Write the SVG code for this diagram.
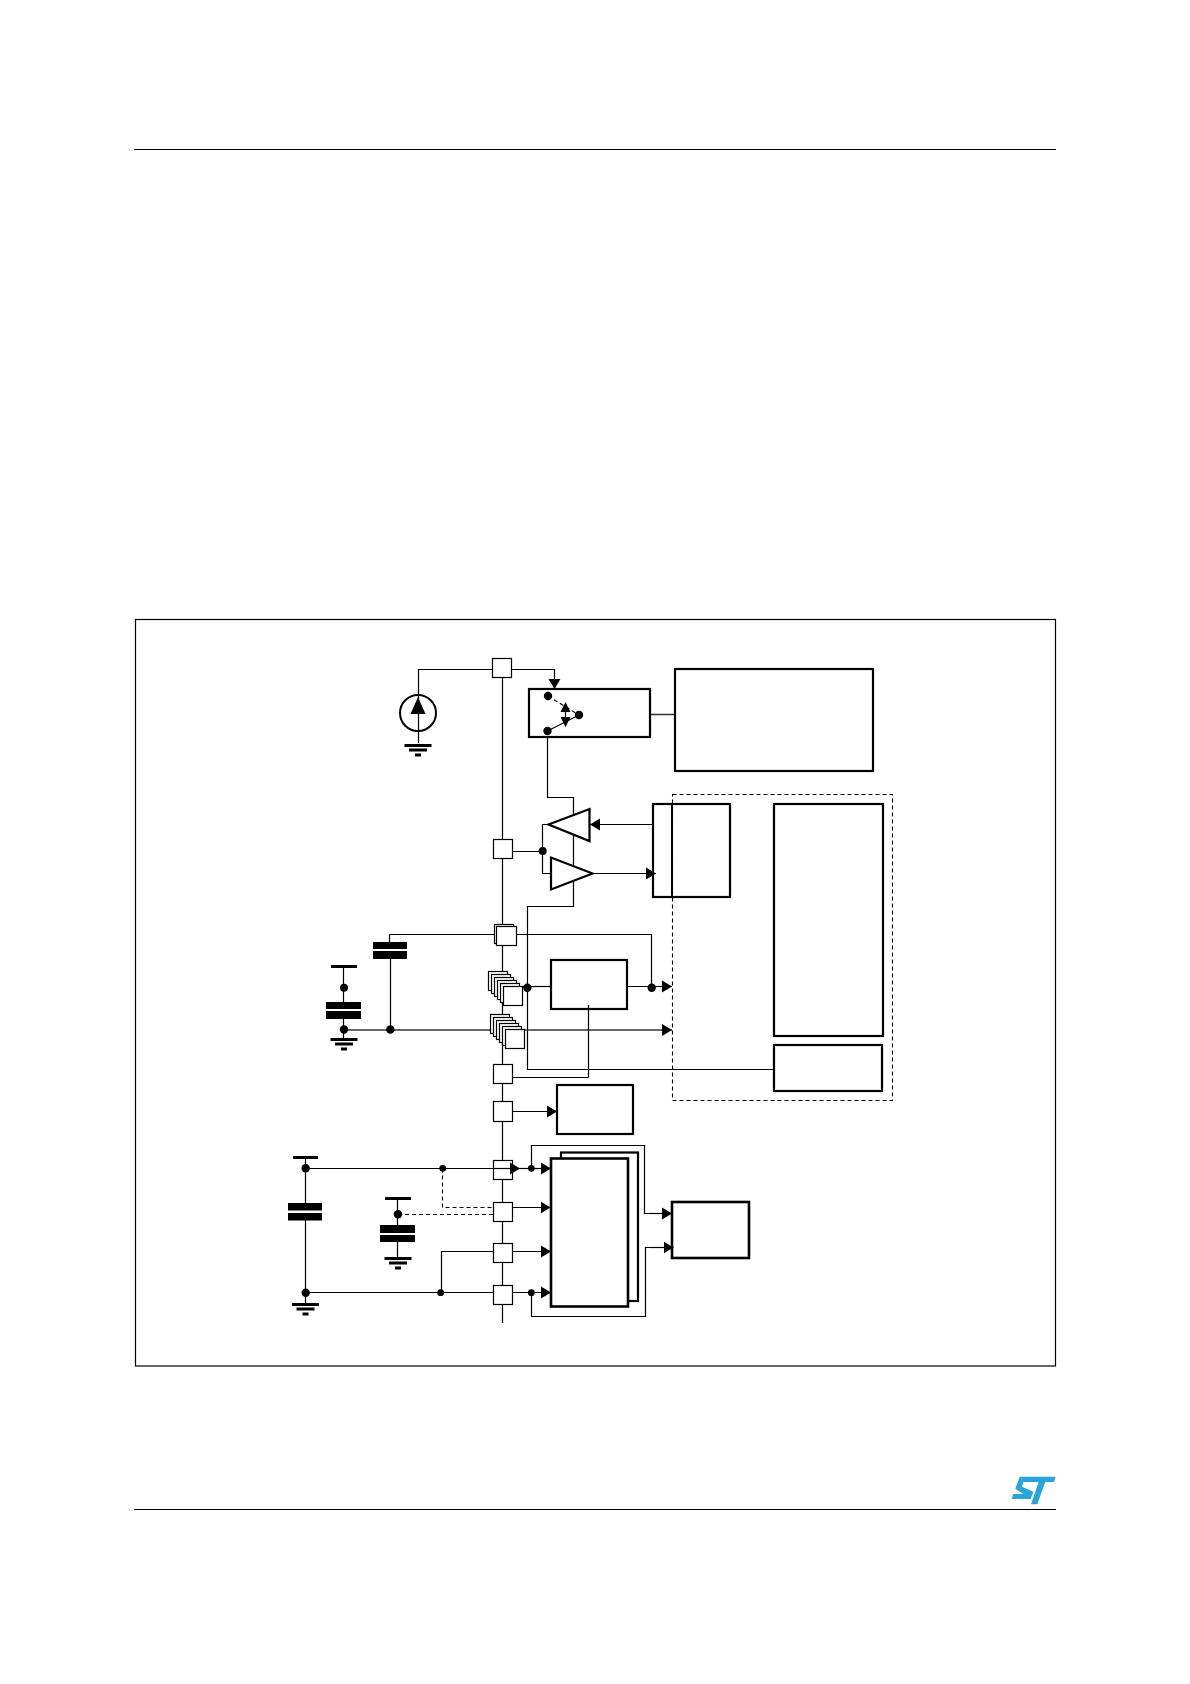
<svg xmlns="http://www.w3.org/2000/svg" width="1190" height="1684" viewBox="0 0 1190 1684">
<style>
.w{fill:none;stroke:#000;stroke-width:1.2}
.g{fill:none;stroke:#333;stroke-width:1.3}
.d{fill:none;stroke:#000;stroke-width:1.1;stroke-dasharray:4 3}
.p{fill:#fff;stroke:#000;stroke-width:1.2}
.b{fill:#fff;stroke:#000;stroke-width:2.2}
.k{fill:#000;stroke:none}
.a{marker-end:url(#arr)}
</style>
<defs>
<marker id="arr" markerUnits="userSpaceOnUse" markerWidth="11" markerHeight="13" refX="10" refY="6.5" orient="auto"><path d="M0 0.5L10 6.5L0 12.5z" fill="#000"/></marker>
<g id="gnd"><rect x="-13.5" y="-1.5" width="27" height="3" class="k"/><rect x="-9" y="3" width="18" height="3" class="k"/><rect x="-3" y="8" width="6" height="3" class="k"/></g>
<g id="stack"><rect x="0" y="0" width="19" height="19" class="p"/><rect x="3" y="3" width="19" height="19" class="p"/><rect x="6" y="6" width="19" height="19" class="p"/><rect x="9" y="9" width="19" height="19" class="p"/><rect x="12" y="12" width="19" height="19" class="p"/><rect x="15" y="15" width="19" height="19" class="p"/></g>
</defs>
<rect width="1190" height="1684" fill="#fff"/>
<g id="page-rules">
<path class="w" d="M134 149.5H1056M134 1509.5H1056"/>
<rect x="135.5" y="619.5" width="920" height="746.5" class="w"/>
<path id="st-logo" fill="#2aa5dc" d="M1019.7 1476.7H1055.7L1054 1482H1045.3L1037.3 1504.3H1031L1038.7 1482H1023.3L1022 1486.7L1033.3 1491.7L1030.7 1499H1011.7L1013.3 1494H1023.3L1015.3 1488.7z"/>
</g>
<rect id="dashed-region" x="672.5" y="794.5" width="220" height="306" class="d"/>
<g id="connectors">
<path class="w" d="M502.5 677V1323"/>
<path class="w" d="M492 669.5H418.5V743"/>
<path class="w a" d="M511 669.5H554.5V689"/>
<path class="g" d="M579 714.5H675"/>
<path class="w" d="M547.5 731V797.5H573.5V906.5H527.5V1069.5H774"/>
<path class="w a" d="M652.5 824.5H590"/>
<path class="w" d="M513 851.5H542.5M548 824.5H542.5V873.5H551"/>
<path class="w a" d="M592 873.5H656"/>
<path class="w" d="M389.5 934.5V942M390.5 959V1030"/>
<path class="w" d="M495 934.5H389.5"/>
<path class="w" d="M516 934.5H651.5V987"/>
<path class="w" d="M343.5 967V1002M343.5 1019V1039"/>
<path class="g a" d="M343.5 1030H672"/>
<path class="w" d="M522 986.5H551"/>
<path class="w a" d="M627 986.5H672"/>
<path class="w" d="M512.5 1077.5H588.5"/>
<path class="w a" d="M512 1111.5H557"/>
<path class="w" d="M305.5 1158V1203M305.5 1220V1304"/>
<path class="w" d="M305.5 1168.5H493"/>
<path class="d" d="M442.5 1168.5V1207.5H493M398 1214.5H493"/>
<path class="w" d="M397.5 1199V1225M397.5 1242V1258"/>
<path class="w" d="M305.5 1292.5H493M441.5 1292.5V1251.5H493"/>
<path class="w a" d="M512 1207.5H550.5"/>
<path class="w a" d="M512 1251.5H551"/>
<path class="w a" d="M512 1292.5H551"/>
<path class="w a" d="M520 1168.5H551"/>
<path class="w" d="M531.5 1168.5V1145.5H644.5V1213.5H650"/>
<path class="w" d="M531.5 1292.5V1316.5H645.5V1247.5H650"/>
<path class="w a" d="M650 1213.5H672"/>
</g>
<g id="source"><circle cx="418" cy="713" r="18" fill="#fff" stroke="#000" stroke-width="2"/><path class="w" d="M418.5 695V731"/><path class="k" d="M418 697L425.5 714H410.5z"/><use href="#gnd" x="418" y="745.5"/></g>
<g id="pad-1"><rect x="492.5" y="658.5" width="19" height="19" class="p"/></g>
<g id="pad-2"><rect x="493.5" y="839.5" width="19" height="19" class="p"/></g>
<g id="pad-3"><rect x="494.5" y="924.5" width="19" height="19" class="p"/><rect x="496.5" y="926.5" width="20" height="19" class="p"/></g>
<g id="pad-stack-1"><use href="#stack" x="488.5" y="971.5"/></g>
<g id="pad-stack-2"><use href="#stack" x="490.5" y="1014.5"/></g>
<g id="pad-4"><rect x="493.5" y="1064.5" width="19" height="19" class="p"/></g>
<g id="pad-5"><rect x="493.5" y="1101.5" width="19" height="20" class="p"/></g>
<g id="pad-6"><rect x="493.5" y="1160.5" width="19" height="19" class="p"/></g>
<g id="pad-7"><rect x="493.5" y="1202.5" width="19" height="19" class="p"/></g>
<g id="pad-8"><rect x="493.5" y="1243.5" width="19" height="19" class="p"/></g>
<g id="pad-9"><rect x="493.5" y="1285.5" width="19" height="19" class="p"/></g>
<g id="switch-box"><rect x="529" y="689" width="121" height="48" class="b"/>
<circle cx="548" cy="696" r="4.2" class="k"/><circle cx="547.5" cy="731" r="4.2" class="k"/><circle cx="579" cy="715" r="4.2" class="k"/>
<path class="d" stroke-dasharray="3 2" d="M548 696L579 715"/><path class="w" d="M547.5 731L579 715M565.5 708V722"/>
<path class="k" d="M565.5 702L570.5 712H560.5zM565.5 727L570.5 717H560.5z"/></g>
<g id="box-top"><rect x="675" y="669" width="198" height="102" class="b"/></g>
<g id="buffer-out"><path d="M548.5 824.5L589.5 809V841z" class="b"/></g>
<g id="buffer-in"><path d="M551 857.5V889.5L592.5 873.5z" class="b"/></g>
<g id="box-io"><rect x="653" y="804" width="77" height="93" class="b" fill-opacity="0"/><path d="M672 804V897" fill="none" stroke="#000" stroke-width="2"/></g>
<g id="box-memory"><rect x="774" y="804" width="109" height="232" class="b"/></g>
<g id="box-small"><rect x="774" y="1045" width="108" height="46" class="b"/></g>
<g id="box-mid"><rect x="551" y="960" width="76" height="49" class="b"/></g>
<g id="box-low"><rect x="557" y="1085" width="76" height="49" class="b"/></g>
<g id="box-back"><rect x="561" y="1152.5" width="77" height="148.5" class="b"/></g>
<g id="box-front"><rect x="551" y="1158.5" width="77" height="148" fill="#fff" stroke="#000" stroke-width="2.6"/></g>
<g id="box-right"><rect x="672" y="1202" width="77" height="56" fill="#fff" stroke="#000" stroke-width="2.6"/></g>
<g id="cap-1"><rect x="331" y="965" width="26" height="3" class="k"/><rect x="326" y="1002" width="35" height="7" class="k"/><rect x="326" y="1011" width="35" height="8" class="k"/><use href="#gnd" x="344" y="1039.5"/></g>
<g id="cap-2"><rect x="373" y="942" width="34" height="7" class="k"/><rect x="373" y="951" width="34" height="8" class="k"/></g>
<g id="cap-3"><rect x="293" y="1156" width="25" height="3" class="k"/><rect x="288" y="1203" width="34" height="7.5" class="k"/><rect x="288" y="1213" width="34" height="7.5" class="k"/><use href="#gnd" x="305.5" y="1304.5"/></g>
<g id="cap-4"><rect x="385" y="1197" width="26" height="3" class="k"/><rect x="380" y="1225" width="35" height="8" class="k"/><rect x="380" y="1235" width="35" height="7" class="k"/><use href="#gnd" x="398" y="1258.5"/></g>
<g id="connectors-over">
<path class="w" d="M588.5 1005V1077.5"/>
<path class="w a" d="M493 1168.5H520"/>
<path class="w a" d="M650 1247.5H673.5"/>
<g class="k">
<circle cx="542.7" cy="851" r="4"/><circle cx="344" cy="987.7" r="4"/><circle cx="344" cy="1029.5" r="4.2"/><circle cx="390.3" cy="1029.5" r="4.2"/>
<circle cx="527.3" cy="987.7" r="4.2"/><circle cx="651.7" cy="987.7" r="4.2"/>
<circle cx="305.7" cy="1168.3" r="4.2"/><circle cx="305.7" cy="1292.7" r="4.2"/><circle cx="442.7" cy="1168.3" r="3.4"/><circle cx="440.7" cy="1292.7" r="3.4"/><circle cx="398" cy="1214.3" r="4.2"/>
<circle cx="531.3" cy="1168.3" r="3.4"/><circle cx="531.3" cy="1292.7" r="3.4"/>
</g>
</g>
</svg>
